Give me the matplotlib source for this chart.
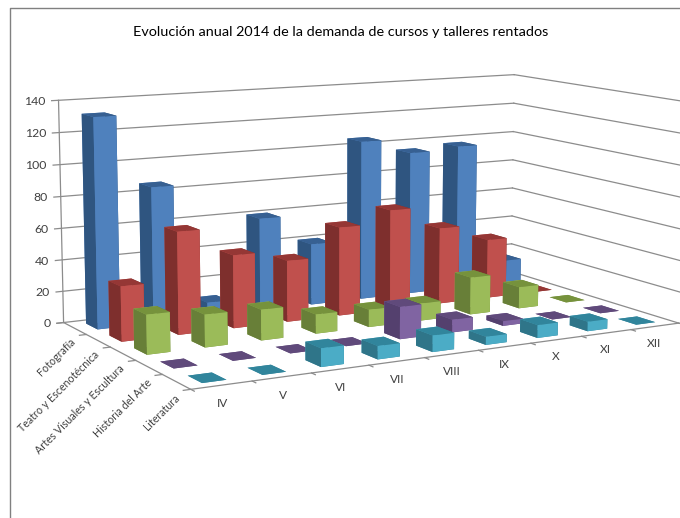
import matplotlib
matplotlib.use('Agg')
import matplotlib.pyplot as plt
from matplotlib.lines import Line2D
from mpl_toolkits.mplot3d import proj3d

plt.rcParams['font.family'] = ['Lato', 'DejaVu Sans']

months = ['IV', 'V', 'VI', 'VII', 'VIII', 'IX', 'X', 'XI', 'XII']
categories = ['Literatura', 'Historia del Arte', 'Artes Visuales y Escultura', 'Teatro y Escenotécnica', 'Fotografía']
literatura = [0, 0, 11, 8, 10, 5, 8, 6, 0]
historia = [0, 0, 0, 0, 20, 8, 3, 0, 0]
artes = [24, 20, 19, 12, 11, 11, 24, 14, 0]
teatro = [34, 64, 46, 39, 57, 65, 50, 39, 0]
fotografia = [132, 86, 9, 60, 40, 105, 95, 97, 15]
z_ticks = [0, 20, 40, 60, 80, 100, 120, 140]

# front, side, top of each bar
colors = [('#4BACC6', '#2F7589', '#31859C'),
          ('#8064A2', '#54406E', '#604A7B'),
          ('#9BBB59', '#687F38', '#76923C'),
          ('#C0504D', '#7E2F2D', '#953735'),
          ('#4F81BD', '#2F5580', '#376092')]
series = [literatura, historia, artes, teatro, fotografia]
line = '#8C8C8C'
text_color = '#404040'
bar_w = 0.4
bar_d = 0.5

fig = plt.figure(figsize=(6.8, 5.18), dpi=100)
ax = fig.add_axes([42.8 / 680, -24.2 / 518, 641.2 / 680, 641.2 / 518], projection='3d', computed_zorder=False)
ax.view_init(9.6337, -119.9297, -0.1941)
ax.set_proj_type('persp', focal_length=0.5815)
ax.set_box_aspect((4, 2.2457, 1.6622))
ax.set_axis_off()

# back to front so the nearer bars cover the others
for yi in range(4, -1, -1):
    for xi in range(8, -1, -1):
        front, side, top = colors[yi]
        cols = [top, top, front, front, side, side]
        ax.bar3d(xi + 0.5 - bar_w / 2, yi + 0.5 - bar_d / 2, 0, bar_w, bar_d, series[yi][xi],
                 color=cols, shade=False, zorder=10 + (4 - yi) * 20 + (8 - xi))

ax.set_xlim(0, 9, view_margin=0)
ax.set_ylim(0, 5, view_margin=0)
ax.set_zlim(0, 140, view_margin=0)
M = ax.get_proj()


# ax.text in 3d ignores rotation, so project the anchor and use text2D
def label(x, y, z, s, **kw):
    u, v, _ = proj3d.proj_transform(x, y, z, M)
    ax.text2D(u, v, s, transform=ax.transData, color=text_color, **kw)


for z in z_ticks:
    ax.plot([-0.12, 0, 9], [5, 5, 5], [z, z, z], color=line, lw=0.9, zorder=1)
    ax.plot([9, 9], [5, 0], [z, z], color=line, lw=0.9, zorder=1)
    label(-0.23, 5, z, str(z), ha='right', va='center', fontsize=8.8)
ax.plot([0, 0], [5, 5], [0, 140], color=line, lw=0.9, zorder=1)
ax.plot([0, 0, 9], [5, 0, 0], [0, 0, 0], color=line, lw=0.9, zorder=1)
for i in range(10):
    ax.plot([i, i], [0, -0.12], [0, 0], color=line, lw=0.9, zorder=1)
for i in range(6):
    ax.plot([0, -0.12], [i, i], [0, 0], color=line, lw=0.9, zorder=1)
for i, m in enumerate(months):
    label(0.96 * i + 0.05, -0.95, 0, m, ha='center', va='center', fontsize=8.6)
for i, c in enumerate(categories):
    label(-0.32, i + 0.5 - 0.75, 0, c, ha='right', va='center', rotation=45,
          rotation_mode='anchor', fontsize=7.7)

fig.text(341 / 680, 1 - 32 / 518, 'Evolución anual 2014 de la demanda de cursos y talleres rentados',
         ha='center', va='center', fontsize=10.35, color='black')
fig.add_artist(Line2D([10 / 680, 10 / 680, 1], [0, 1 - 7.5 / 518, 1 - 7.5 / 518], color='#808080', lw=1))
fig.savefig('out.png', dpi=100)
